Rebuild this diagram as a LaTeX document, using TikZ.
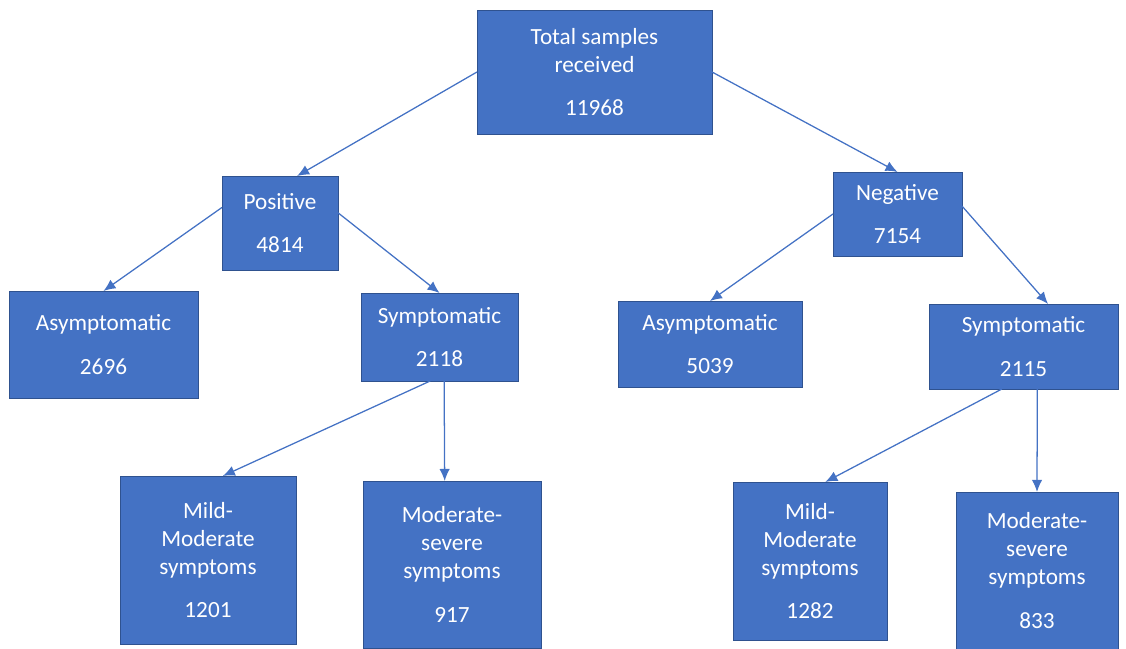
\documentclass[tikz,border=0pt]{standalone}
\usepackage{fontspec}
\setmainfont{Carlito}
\usetikzlibrary{arrows.meta}

\begin{document}
\begin{tikzpicture}[x=0.025cm, y=-0.025cm]
  % Define colors
  \definecolor{boxfill}{RGB}{68,114,196} % box blue
  \definecolor{boxline}{RGB}{47,82,143} % darker border
  \definecolor{arrowcolor}{RGB}{68,114,196}

  \tikzset{
    box/.style={rectangle, fill=boxfill, draw=boxline, line width=0.6pt, text=white,
      align=center, inner sep=2pt, outer sep=0pt,
      font=\fontsize{16.5}{20}\selectfont},
    link/.style={draw=arrowcolor, line width=0.9pt, -{Latex[length=3mm,width=2.6mm]}}
  }

  \useasboundingbox (0,0) rectangle (1126,649);

  % Draw the boxes (pixel positions of the box centres)
  \node[box, minimum width=5.875cm, minimum height=3.1cm] (total) at (594.5,72) {Total samples\\received\\[11pt]11968};

  \node[box, minimum width=2.9cm, minimum height=2.35cm] (pos) at (280,223) {Positive\\[11pt]4814};
  \node[box, minimum width=3.225cm, minimum height=2.1cm] (neg) at (897.5,214) {Negative\\[11pt]7154};

  \node[box, minimum width=4.725cm, minimum height=2.675cm] (asyml) at (103.5,344.5) {Asymptomatic\\[11pt]2696};
  \node[box, minimum width=3.925cm, minimum height=2.2cm] (sympl) at (439.5,337) {Symptomatic\\[11pt]2118};
  \node[box, minimum width=4.6cm, minimum height=2.15cm] (asymr) at (710,344) {Asymptomatic\\[11pt]5039};
  \node[box, minimum width=4.725cm, minimum height=2.125cm] (sympr) at (1023.5,346.5) {Symptomatic\\[11pt]2115};

  \node[box, minimum width=4.4cm, minimum height=4.2cm] (milds) at (208,560) {Mild-\\Moderate\\symptoms\\[11pt]1201};
  \node[box, minimum width=4.45cm, minimum height=4.175cm] (sevs) at (452,564.5) {Moderate-\\severe\\symptoms\\[11pt]917};
  \node[box, minimum width=3.85cm, minimum height=3.95cm] (mildn) at (810,561) {Mild-\\Moderate\\symptoms\\[11pt]1282};
  \node[box, minimum width=4.05cm, minimum height=3.925cm] (sevn) at (1037,570.5) {Moderate-\\severe\\symptoms\\[11pt]833};

  % Draw the arrows
  \draw[link] (total.west) -- (pos.70);
  \draw[link] (total.east) -- (neg.north);

  \draw[link] (pos.165) -- (asyml.north);
  \draw[link] (pos.10) -- (sympl.north);
  \draw[link] (neg.west) -- (asymr.north);
  \draw[link] (neg.7) -- (sympr.60);

  \draw[link] (sympl.258) -- (milds.80);
  \draw[link] (sympl.276) -- (sevs.95);
  \draw[link] (sympr.243) -- (mildn.79);
  \draw[link] (sympr.288) -- (sevn.north);
\end{tikzpicture}
\end{document}
